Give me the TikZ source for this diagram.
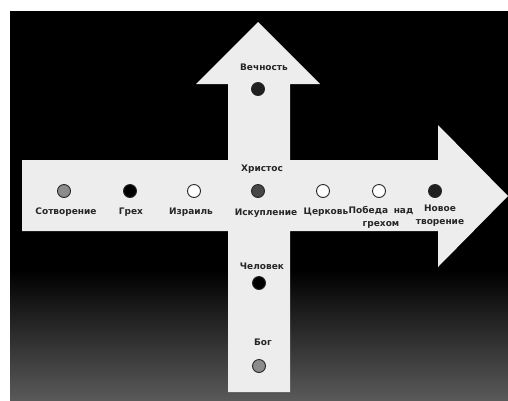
\documentclass[tikz,border=0pt]{standalone}
\usepackage{fontspec}
\setmainfont{DejaVu Sans}
\begin{document}
\begin{tikzpicture}[x=1pt,y=-1pt,
  dot/.style={circle,draw=black!85,line width=0.9pt,minimum size=13pt,inner sep=0pt},
  lbl/.style={font=\fontsize{9}{13}\selectfont\bfseries,text=black!85,inner sep=0pt,align=center}]
\useasboundingbox (0,0) rectangle (508,400);
\fill[white] (0,0) rectangle (508,400);
\fill[black] (10,11) rectangle (508,271);
\shade[top color=black,bottom color=black!65!white] (10,270) rectangle (508,400);
% cross of arrows
\fill[black!7] (22,160) -- (228,160) -- (228,84) -- (196,84) -- (258,22) -- (320,84) -- (290,84) -- (290,160)
  -- (438,160) -- (438,125) -- (508,196) -- (438,267) -- (438,231) -- (290,231) -- (290,392) -- (228,392)
  -- (228,231) -- (22,231) -- cycle;
% horizontal dots
\node[dot,fill=black!45] (d1) at (64,191) {};
\node[dot,fill=black] (d2) at (130,191) {};
\node[dot,fill=white] (d3) at (194,191) {};
\node[dot,fill=black!72] (d4) at (258,191) {};
\node[dot,fill=white] (d5) at (323,191) {};
\node[dot,fill=white] (d6) at (379,191) {};
\node[dot,fill=black!88] (d7) at (435,191) {};
\node[lbl] (l1) at (66,212) {Сотворение};
\node[lbl] (l2) at (131,212) {Грех};
\node[lbl] (l3) at (191,212) {Израиль};
\node[lbl] (l4) at (266,213) {Искупление};
\node[lbl] (l5) at (326,212) {Церковь};
\node[lbl] (l6) at (381,217) {Победа\hspace{2.5pt} над\\грехом};
\node[lbl] (l7) at (440,216) {Новое\\творение};
\node[lbl] (lc) at (262,169) {Христос};
% vertical dots
\node[lbl] (lv) at (264,67) {Вечность};
\node[dot,fill=black!88] (dv) at (258,89) {};
\node[lbl] (lm) at (262,266) {Человек};
\node[dot,fill=black] (dm) at (259,283) {};
\node[lbl] (lg) at (263,342) {Бог};
\node[dot,fill=black!45] (dg) at (259,366) {};
\end{tikzpicture}
\end{document}
